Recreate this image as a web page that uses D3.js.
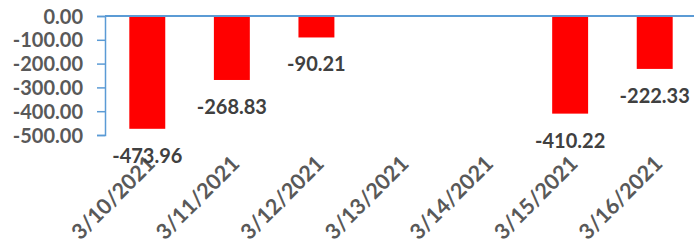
<!DOCTYPE html>
<html>
<head>
    <meta charset="UTF-8">
    <title>Daily change</title>
    <script src="https://d3js.org/d3.v7.min.js"></script>
    <style>
        body {
            margin: 0;
            padding: 0;
            background: #fff;
            overflow: hidden;
        }
        svg {
            display: block;
        }
        .tick-label {
            font: bold 20px Lato, sans-serif;
            fill: #595959;
        }
        .date-label {
            font: bold 21.5px Lato, sans-serif;
            fill: #595959;
        }
        .value-label {
            font: bold 20px Lato, sans-serif;
            fill: #404040;
        }
    </style>
</head>
<body>
    <svg width="694" height="251"></svg>

    <script>
        // 数据
        const dates = ["3/10/2021", "3/11/2021", "3/12/2021", "3/13/2021", "3/14/2021", "3/15/2021", "3/16/2021"];
        const values = [-473.96, -268.83, -90.21, null, null, -410.22, -222.33];
        const yTicks = [0, -100, -200, -300, -400, -500];

        const width = 694, height = 251;
        const svg = d3.select("svg");

        // 用普通连字符代替 d3 的 unicode 减号
        const fmt = v => d3.format(".2f")(v).replace("\u2212", "-");

        const x = d3.scaleBand()
            .domain(dates)
            .range([105, 697])
            .paddingInner(0.575)
            .paddingOuter(0.2875);

        const y = d3.scaleLinear()
            .domain([-500, 0])
            .range([135, 16]);

        const axisColor = "#5B9BD5";
        const bars = dates.map((d, i) => ({date: d, value: values[i]})).filter(d => d.value != null);

        // 柱子
        svg.append("g")
            .selectAll("rect")
            .data(bars)
            .enter().append("rect")
            .attr("x", d => x(d.date))
            .attr("y", y(0))
            .attr("width", x.bandwidth())
            .attr("height", d => y(d.value) - y(0))
            .attr("fill", "#FF0000");

        // y轴
        const yAxis = d3.axisLeft(y)
            .tickValues(yTicks)
            .tickSize(8)
            .tickFormat(fmt);

        const gy = svg.append("g")
            .attr("transform", "translate(105,0)")
            .call(yAxis);
        gy.select(".domain").attr("stroke", axisColor).attr("stroke-width", 1.5);
        gy.selectAll(".tick line").attr("stroke", axisColor).attr("stroke-width", 1.5);
        gy.selectAll(".tick text")
            .attr("class", "tick-label")
            .attr("x", -22)
            .attr("dy", "0.35em");

        // 零线
        svg.append("line")
            .attr("x1", 105).attr("x2", width)
            .attr("y1", y(0)).attr("y2", y(0))
            .attr("stroke", axisColor)
            .attr("stroke-width", 2);

        // x轴标签
        svg.append("g")
            .selectAll("text")
            .data(dates)
            .enter().append("text")
            .attr("class", "date-label")
            .attr("text-anchor", "end")
            .attr("transform", d => `translate(${x(d) + x.bandwidth() / 2 + 9},165) rotate(-45)`)
            .text(d => d);

        // 数值标签
        svg.append("g")
            .selectAll("text")
            .data(bars)
            .enter().append("text")
            .attr("class", "value-label")
            .attr("text-anchor", "middle")
            .attr("x", d => x(d.date) + x.bandwidth() / 2)
            .attr("y", d => y(d.value) + 27)
            .attr("dy", "0.35em")
            .text(d => fmt(d.value));
    </script>
</body>
</html>
